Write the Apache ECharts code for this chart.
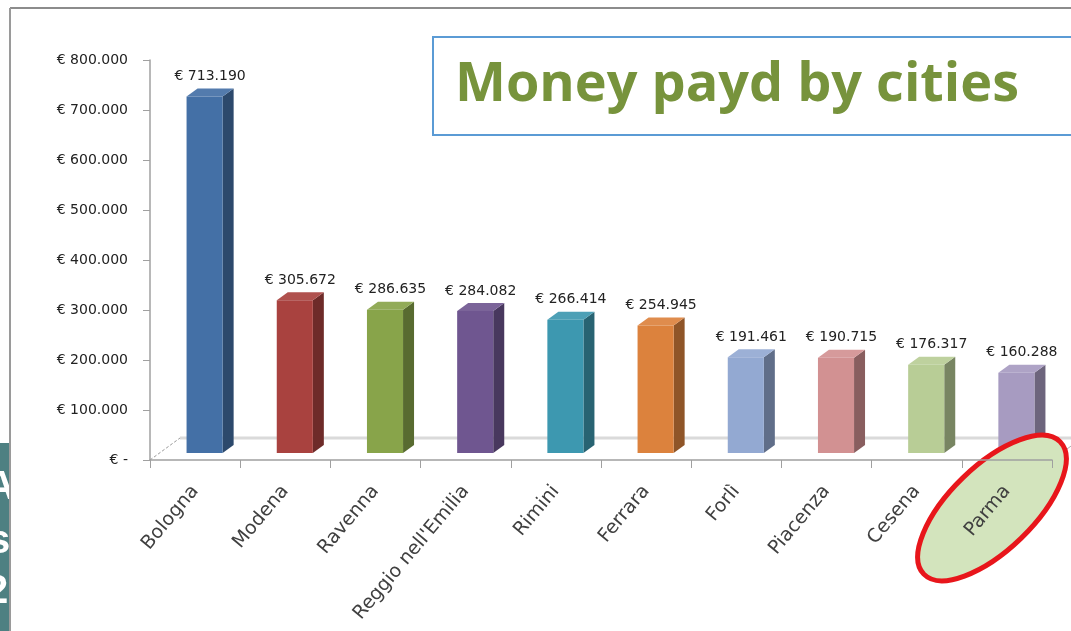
<!DOCTYPE html>
<html>
<head>
<meta charset="utf-8">
<title>Money payd by cities</title>
<script src="https://cdn.jsdelivr.net/npm/echarts@6/dist/echarts.min.js"></script>
<style>
  html, body { margin: 0; padding: 0; background: #fff; }
  #chart { width: 1071px; height: 631px; }
</style>
</head>
<body>
<div id="chart"></div>
<script>
  // data
  var cities = ['Bologna', 'Modena', 'Ravenna', "Reggio nell'Emilia", 'Rimini', 'Ferrara', 'Forlì', 'Piacenza', 'Cesena', 'Parma'];
  var amounts = [713190, 305672, 286635, 284082, 266414, 254945, 191461, 190715, 176317, 160288];
  var yTicks = [0, 100000, 200000, 300000, 400000, 500000, 600000, 700000, 800000];

  // one colour per bar (excel style)
  var frontColors = ['#4470a6', '#a9423f', '#88a44a', '#6f5690', '#3d98b0', '#dc823d', '#93a9d2', '#d29192', '#b8cd96', '#a79bc1'];

  function shade(hex, f) {
    var n = parseInt(hex.slice(1), 16);
    var r = n >> 16, g = (n >> 8) & 255, b = n & 255;
    function c(x) {
      x = f < 0 ? x * (1 + f) : x + (255 - x) * f;
      return Math.max(0, Math.min(255, Math.round(x)));
    }
    return 'rgb(' + c(r) + ',' + c(g) + ',' + c(b) + ')';
  }

  function euro(v) {
    if (v === 0) return '€ -';
    return '€ ' + String(v).replace(/\B(?=(\d{3})+(?!\d))/g, '.');
  }

  // floor depth of the fake 3d plot
  var depthX = 30, depthY = -22;

  function renderFloor(params, api) {
    var cs = params.coordSys;
    var l = cs.x, r = cs.x + cs.width, b = cs.y + cs.height;
    return {
      type: 'group',
      children: [
        { type: 'line', shape: { x1: l + depthX, y1: b + depthY, x2: r + depthX + 40, y2: b + depthY },
          style: { stroke: '#dadada', lineWidth: 3 } },
        { type: 'line', shape: { x1: l, y1: b, x2: l + depthX, y2: b + depthY },
          style: { stroke: '#9a9a9a', lineWidth: 1, lineDash: [3, 2] } },
        { type: 'line', shape: { x1: r, y1: b, x2: r + depthX, y2: b + depthY },
          style: { stroke: '#b0b0b0', lineWidth: 1 } }
      ]
    };
  }

  function renderBar(params, api) {
    var i = api.value(0);
    var v = api.value(1);
    var base = api.coord([i, 0]);
    var top = api.coord([i, v]);
    var band = api.size([1, 0])[0];
    var w = band * 0.4;
    var ox = 9.5, oy = -7;   // bar sits a third into the floor
    var dx = 11, dy = -8;    // bar depth
    var x0 = base[0] + ox - w / 2, x1 = x0 + w;
    var yb = base[1] + oy, yt = top[1] + oy;
    var c = frontColors[i];
    return {
      type: 'group',
      children: [
        { type: 'polygon', shape: { points: [[x1, yb], [x1 + dx, yb + dy], [x1 + dx, yt + dy], [x1, yt]] },
          style: { fill: shade(c, -0.35) } },
        { type: 'polygon', shape: { points: [[x0, yt], [x1, yt], [x1 + dx, yt + dy], [x0 + dx, yt + dy]] },
          style: { fill: shade(c, 0.08) } },
        { type: 'rect', shape: { x: x0, y: yt, width: w, height: yb - yt },
          style: { fill: c } },
        { type: 'text', x: (x0 + x1 + dx) / 2, y: yt + dy - 5,
          style: { text: euro(v), align: 'center', verticalAlign: 'bottom',
                   font: '14px "DejaVu Sans"', fill: '#222' } }
      ]
    };
  }

  var chart = echarts.init(document.getElementById('chart'));

  chart.setOption({
    animation: false,
    backgroundColor: '#fff',
    grid: { left: 150, right: 19, top: 60, bottom: 171 },
    xAxis: {
      type: 'category',
      data: cities,
      z: 6,
      axisLine: { lineStyle: { color: '#a0a0a0', width: 1.5 } },
      axisTick: { show: true, length: 8, lineStyle: { color: '#a0a0a0' } },
      axisLabel: {
        rotate: 50,
        margin: 28,
        interval: 0,
        color: '#404040',
        fontFamily: 'DejaVu Sans',
        fontSize: 19
      }
    },
    yAxis: {
      type: 'value',
      min: 0,
      max: 800000,
      interval: 100000,
      splitLine: { show: false },
      axisLine: { show: true, lineStyle: { color: '#a0a0a0', width: 1.5 } },
      axisTick: { show: true, length: 7, lineStyle: { color: '#a0a0a0' } },
      axisLabel: {
        margin: 22,
        color: '#222',
        fontFamily: 'DejaVu Sans',
        fontSize: 14,
        formatter: function (v) { return yTicks.indexOf(v) >= 0 ? euro(v) : ''; }
      }
    },
    series: [
      {
        type: 'custom',
        z: 1,
        silent: true,
        data: [[0, 0]],
        renderItem: renderFloor
      },
      {
        type: 'custom',
        z: 2,
        data: cities.map(function (c, i) { return [i, amounts[i]]; }),
        encode: { x: 0, y: 1 },
        renderItem: renderBar
      }
    ],
    graphic: [
      // slide behind the chart, left edge
      { type: 'rect', z: 0, shape: { x: 0, y: 443, width: 9, height: 188 }, style: { fill: '#4e8082' } },
      { type: 'text', z: 0, x: -14, y: 468, style: { text: 'A', font: 'bold 40px "Liberation Sans"', fill: '#fff' } },
      { type: 'text', z: 0, x: -12, y: 522, style: { text: 's', font: 'bold 40px "Liberation Sans"', fill: '#fff' } },
      { type: 'text', z: 0, x: -14, y: 572, style: { text: '2', font: 'bold 40px "Liberation Sans"', fill: '#fff' } },
      { type: 'rect', z: 0, shape: { x: 9, y: 440, width: 30, height: 191 }, style: { fill: '#fff' } },
      // frame
      { type: 'line', z: 1, shape: { x1: 10, y1: 8, x2: 1071, y2: 8 }, style: { stroke: '#8c8c8c', lineWidth: 2 } },
      { type: 'line', z: 1, shape: { x1: 10, y1: 8, x2: 10, y2: 631 }, style: { stroke: '#9a9a9a', lineWidth: 2 } },
      // title box
      { type: 'rect', z: 1, shape: { x: 433, y: 37, width: 700, height: 98 },
        style: { fill: '#fff', stroke: '#5b9bd5', lineWidth: 2 } },
      { type: 'text', z: 1, x: 455, y: 86,
        style: { text: 'Money payd by cities', font: 'bold 54px "Open Sans"', fill: '#77933c', verticalAlign: 'middle' } },
      // highlight round Parma
      { type: 'ellipse', z: 4, x: 992, y: 508, rotation: 0.77,
        shape: { cx: 0, cy: 0, rx: 95, ry: 42 },
        style: { fill: '#d3e4bd', stroke: '#e8161b', lineWidth: 5 } }
    ]
  });
</script>
</body>
</html>
